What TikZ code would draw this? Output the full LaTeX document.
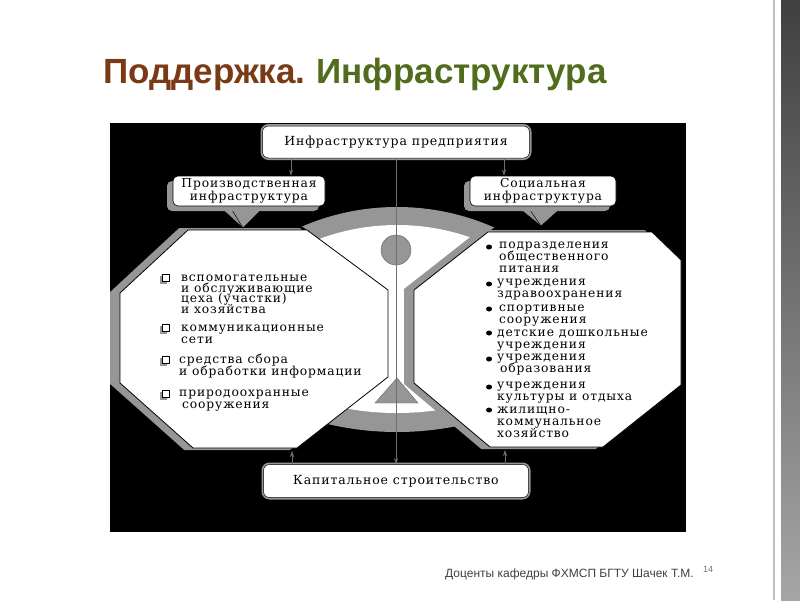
\documentclass[tikz,border=0pt]{standalone}
\usepackage{fontspec}
\setmainfont{Liberation Serif}
\newfontfamily\bmfont[LetterSpace=7]{DejaVu Serif}
\newfontfamily\ttlfont{Liberation Sans}
\usetikzlibrary{arrows.meta}
\definecolor{titlebrown}{RGB}{122,58,22}
\definecolor{titlegreen}{RGB}{80,108,28}
\definecolor{midgray}{RGB}{150,150,150}
\definecolor{linegray}{RGB}{110,110,110}
\definecolor{footgray}{RGB}{64,64,64}
\newcommand{\firstln}{\rule{0pt}{10pt}}
\begin{document}
\lineskiplimit=-20pt
\begin{tikzpicture}[x=1pt,y=-1pt,
  itemtext/.style={font=\bmfont\fontsize{12.3}{11.9}\selectfont, inner sep=0pt, anchor=north west, align=left},
  mainbox/.style={fill=white, draw=black, line width=0.5pt, rounded corners=6pt,
     preaction={draw=midgray, line width=4pt}, inner sep=0pt,
     font=\bmfont\fontsize{12.5}{13}\selectfont},
  headbox/.style={fill=white, draw=black, line width=0.6pt, rounded corners=5pt,
     preaction={fill=midgray, transform canvas={shift={(-6pt,-5pt)}}},
     inner sep=0pt, align=center, font=\bmfont\fontsize{12.3}{12.5}\selectfont},
  arr/.style={-{Stealth[length=6pt,width=4pt]}, line width=0.6pt, draw=linegray},
  sqbullet/.style={draw=black, line width=0.6pt, fill=white},
  octline/.style={draw=black, line width=0.8pt, fill=white, line join=miter},
  octshadow/.style={draw=midgray, fill=midgray, line width=4pt, line join=miter},
]
\useasboundingbox (0,0) rectangle (800,600);
\fill[white] (0,0) rectangle (800,600);

% right edge decoration
\draw[black!25, line width=1.5pt] (774,0) -- (774,600);
\shade[top color=black!75, middle color=black, bottom color=black!35] (781,0) rectangle (800,600);

% title
\node[anchor=base west, inner sep=0pt, font=\ttlfont\bfseries\fontsize{35}{40}\selectfont] (title) at (103,83)
  {\textcolor{titlebrown}{Поддержка.}\hspace{-2pt} \textcolor{titlegreen}{Инфраструктура}};

% black panel
\fill[black] (110,123) rectangle (686,532);

% top fan
\begin{scope}
  \clip (397,298) -- (254,190) -- (546,190) -- cycle;
  \fill[midgray] (397,447) circle (240);
  \fill[white] (397,447) circle (222);
\end{scope}
% bottom fan
\begin{scope}
  \clip (397,368) -- (257,480) -- (529,480) -- cycle;
  \fill[midgray] (397,130) circle (302);
  \fill[white] (397,130) circle (283);
\end{scope}
\fill[white] (386,280) rectangle (416,390);

% left octagon
\begin{scope}[shift={(-8,0)}]
  \path[octshadow] (188,230) -- (307,230) -- (388,290) -- (388,377) -- (297,448) -- (193,448) -- (120,383) -- (120,293) -- cycle;
\end{scope}
\path[octline] (188,230) -- (307,230) -- (388,290) -- (388,377) -- (297,448) -- (193,448) -- (120,383) -- (120,293) -- cycle;

% right octagon
\begin{scope}[shift={(-8,0)}]
  \path[octshadow] (488,232) -- (652,232) -- (681,260) -- (681,385) -- (603,447) -- (490,447) -- (414,383) -- (414,290) -- cycle;
\end{scope}
\path[octline] (488,232) -- (652,232) -- (681,260) -- (681,385) -- (603,447) -- (490,447) -- (414,383) -- (414,290) -- cycle;

% fan decorations
\filldraw[fill=midgray, draw=black!60, line width=0.4pt] (396,250) circle (15);
\filldraw[fill=midgray, draw=black!60, line width=0.4pt] (397,378) -- (418,403) -- (375,403) -- cycle;

% header tails
\filldraw[fill=midgray, draw=black, line width=0.5pt] (222,209) -- (262,209) -- (243,228) -- cycle;
\draw[black, line width=0.5pt] (232,210) -- (243,228);
\filldraw[fill=midgray, draw=black, line width=0.5pt] (520,209) -- (560,209) -- (541,226) -- cycle;
\draw[black, line width=0.5pt] (530,210) -- (541,226);

% boxes
\node[mainbox, minimum width=267pt, minimum height=32pt] (top) at (396,142) {Инфраструктура предприятия};
\node[mainbox, minimum width=265pt, minimum height=33pt] (cap) at (396,481) {Капитальное строительство};
\node[headbox, minimum width=152pt, minimum height=30pt] (prod) at (249,191) {Производственная\\инфраструктура};
\node[headbox, minimum width=146pt, minimum height=30pt] (soc) at (543,191) {Социальная\\инфраструктура};

% connectors
\coordinate (lx) at (291,0);
\coordinate (rx) at (504,0);
\coordinate (lb) at (292,451);
\coordinate (rb) at (505,450);
\draw[arr] (top.south) -- (cap.north);
\draw[arr] (top.south -| lx) -- (prod.north -| lx);
\draw[arr] (top.south -| rx) -- (soc.north -| rx);
\draw[arr] (cap.north -| lb) -- (lb);
\draw[arr] (cap.north -| rb) -- (rb);

% left items
\foreach \y/\n in {278/a,328/b,360/c,394/d}{
  \fill[midgray] (160,\y-2) rectangle (167,\y+5.5);
  \path[sqbullet] (162,\y-3.5) rectangle (169,\y+3.5);
}
\node[itemtext, font=\bmfont\fontsize{12.3}{10.8}\selectfont] (la) at (181,271) {\firstln вспомогательные\\и обслуживающие\\цеха (участки)\\и хозяйства};
\node[itemtext] (lb2) at (181,321) {\firstln коммуникационные\\сети};
\node[itemtext] (lc) at (179,353) {\firstln средства сбора\\и обработки информации};
\node[itemtext] (ld) at (179,386) {\firstln природоохранные\\\hspace*{3pt}сооружения};

% right items
\foreach \y in {247,284,309,333,359,387,410}{
  \fill[black] (489,\y) ellipse (3 and 2.5);
}
\node[itemtext] (ra) at (499,238) {\firstln подразделения\\общественного\\питания};
\node[itemtext] (rb2) at (497,275) {\firstln учреждения\\здравоохранения};
\node[itemtext] (rc) at (499,301) {\firstln спортивные\\сооружения};
\node[itemtext] (rd) at (497,326) {\firstln детские дошкольные\\учреждения};
\node[itemtext] (re) at (497,350) {\firstln учреждения\\\hspace*{3pt}образования};
\node[itemtext] (rf) at (497,378) {\firstln учреждения\\культуры и отдыха};
\node[itemtext] (rg) at (497,403) {\firstln жилищно-\\коммунальное\\хозяйство};

% footer
\node[anchor=base west, inner sep=0pt, font=\ttlfont\fontsize{12}{14}\selectfont, text=footgray] (foot) at (445,577)
  {Доценты кафедры ФХМСП БГТУ Шачек Т.М.};
\node[anchor=base west, inner sep=0pt, font=\ttlfont\fontsize{9}{10}\selectfont, text=black!55] (pnum) at (703,572) {14};
\end{tikzpicture}
\end{document}
